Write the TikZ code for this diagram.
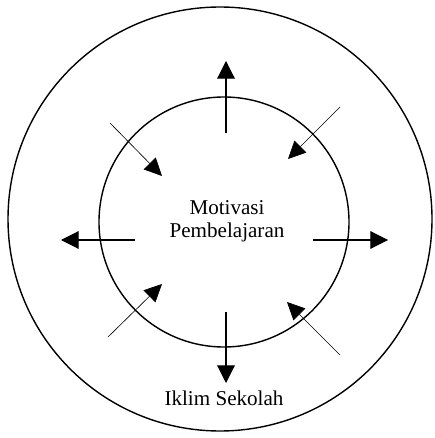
\documentclass[tikz,border=0pt]{standalone}
\usepackage{fontspec}
\setmainfont{Liberation Serif}
\usetikzlibrary{arrows.meta,positioning}

\begin{document}
\begin{tikzpicture}[
  x=0.025cm, y=-0.025cm,
  font=\fontsize{15}{16.5}\selectfont,
  ring/.style={draw, line width=1pt},
  lbl/.style={align=center, inner sep=1pt},
  outarr/.style={-{Triangle[length=4.4mm, width=4.4mm]}, line width=0.8pt},
  inarr/.style={-{Triangle[length=4.4mm, width=4.2mm]}, line width=0.45pt},
]
\useasboundingbox (0,0) rectangle (434,438);
% ---------------- rings ----------------
\draw[ring] (220,219) circle[radius=212];
\draw[ring] (224,222) circle[radius=125];
% ---------------- labels ----------------
\node[lbl] (mot) at (227,221) {Motivasi\\Pembelajaran};
\node[lbl] (iklim) at (224,398) {Iklim Sekolah};
% ---------------- outward arrows ----------------
\coordinate (upA) at (226,133);   \coordinate (upB) at (226,61);
\coordinate (dnA) at (226,312);   \coordinate (dnB) at (226,383);
\coordinate (lfA) at (135,240);   \coordinate (lfB) at (61,240);
\coordinate (rtA) at (313,240);   \coordinate (rtB) at (388,240);
\draw[outarr] (upA) -- (upB);
\draw[outarr] (dnA) -- (dnB);
\draw[outarr] (lfA) -- (lfB);
\draw[outarr] (rtA) -- (rtB);
% ---------------- inward arrows ----------------
\coordinate (tlA) at (110,123);   \coordinate (tlB) at (162,176);
\coordinate (trA) at (340,107);   \coordinate (trB) at (288,159);
\coordinate (blA) at (108,337);   \coordinate (blB) at (162,284);
\coordinate (brA) at (340,355);   \coordinate (brB) at (287,302);
\draw[inarr] (tlA) -- (tlB);
\draw[inarr] (trA) -- (trB);
\draw[inarr] (blA) -- (blB);
\draw[inarr] (brA) -- (brB);
\end{tikzpicture}
\end{document}
